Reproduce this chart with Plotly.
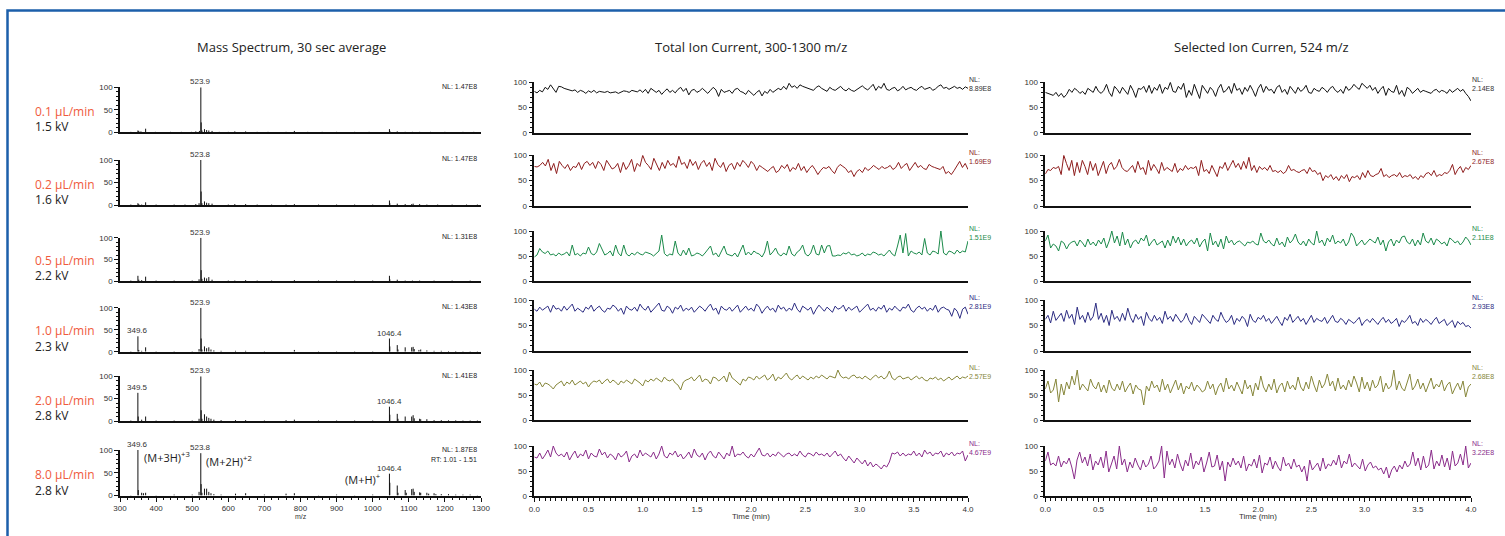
import numpy as np
import plotly.graph_objects as go

# ---------------- data ----------------
flow_labels = ["0.1 µL/min", "0.2 µL/min", "0.5 µL/min", "1.0 µL/min", "2.0 µL/min", "8.0 µL/min"]
kv_labels = ["1.5 kV", "1.6 kV", "2.2 kV", "2.3 kV", "2.8 kV", "2.8 kV"]
row_colors = ["#111111", "#8e1d1d", "#1b8a4a", "#2c2c82", "#86863a", "#8a2c8a"]
ms_nl = ["1.47E8", "1.47E8", "1.31E8", "1.43E8", "1.41E8", "1.87E8"]
tic_nl = ["8.89E8", "1.69E9", "1.51E9", "2.81E9", "2.57E9", "4.67E9"]
sic_nl = ["2.14E8", "2.67E8", "2.11E8", "2.93E8", "2.68E8", "3.22E8"]
col_titles = ["Mass Spectrum, 30 sec average", "Total Ion Current, 300-1300 m/z", "Selected Ion Curren, 524 m/z"]

# mass spectra: peak m/z and relative intensity per row
ms_mz_r1 = [330, 349.6, 352, 358, 371, 398, 440, 470, 498, 510, 520, 523.9, 524.9, 527, 534, 540, 546, 555, 575, 600, 618, 648, 680, 710, 760, 783, 820, 860, 900, 950, 990, 1046.4, 1047.4, 1068, 1090, 1110, 1130, 1160, 1200, 1250, 1280]
ms_int_r1 = [1, 4, 3, 2, 8, 1, 1, 1, 1, 2, 3, 100, 22, 4, 7, 5, 4, 3, 1, 1, 2, 2, 1, 1, 1, 3, 1, 1, 1, 1, 1, 7, 3, 2, 1, 1, 1, 1, 1, 1, 1]
ms_mz_r2 = [330, 349.6, 352, 360, 371, 400, 450, 480, 510, 519, 523.8, 524.8, 527, 534, 540, 546, 555, 600, 618, 648, 680, 720, 760, 783, 850, 900, 950, 1000, 1046.4, 1047.4, 1068, 1090, 1108, 1112, 1130, 1150, 1180, 1220, 1260, 1290]
ms_int_r2 = [1, 4, 2, 1, 6, 1, 1, 1, 2, 4, 100, 30, 4, 8, 5, 4, 3, 1, 2, 2, 1, 1, 1, 2, 1, 1, 1, 1, 10, 4, 3, 2, 2, 3, 2, 1, 1, 1, 1, 1]
ms_mz_r3 = [330, 349.6, 352, 360, 371, 400, 450, 500, 519, 523.9, 524.9, 527, 534, 540, 546, 555, 600, 618, 648, 680, 720, 783, 850, 900, 950, 1000, 1046.4, 1047.4, 1068, 1090, 1110, 1130, 1170, 1220, 1270]
ms_int_r3 = [1, 12, 3, 2, 10, 1, 1, 1, 4, 100, 25, 5, 8, 6, 9, 3, 1, 1, 2, 1, 1, 2, 1, 1, 1, 1, 12, 4, 3, 1, 1, 1, 1, 1, 1]
ms_mz_r4 = [330, 349.6, 352, 360, 371, 400, 450, 500, 519, 523.9, 524.9, 527, 534, 540, 546, 552, 560, 580, 620, 648, 700, 783, 850, 900, 950, 1000, 1046.4, 1047.4, 1068, 1070, 1090, 1108, 1112, 1115, 1128, 1133, 1150, 1170, 1190, 1210, 1230, 1250, 1270, 1290]
ms_int_r4 = [1, 35, 4, 2, 10, 1, 1, 1, 6, 100, 30, 5, 12, 8, 10, 5, 3, 2, 2, 2, 1, 4, 1, 1, 1, 1, 30, 12, 15, 5, 10, 10, 11, 6, 4, 5, 3, 2, 2, 1.5, 1.5, 1, 1, 1]
ms_mz_r5 = [330, 349.5, 350.5, 360, 371, 400, 450, 500, 519, 523.9, 524.9, 527, 534, 540, 546, 552, 560, 580, 620, 648, 700, 760, 783, 850, 900, 950, 1000, 1046.4, 1047.4, 1068, 1070, 1090, 1108, 1112, 1115, 1130, 1133, 1150, 1170, 1190, 1210, 1230, 1250, 1270, 1290]
ms_int_r5 = [1, 63, 10, 3, 10, 1, 1, 1, 5, 100, 24, 5, 15, 10, 7, 5, 3, 2, 2, 2, 1, 2, 3, 1, 1, 1, 1, 32, 14, 16, 5, 10, 10, 13, 6, 5, 4, 4, 2, 2, 1.5, 1.5, 1, 1, 1]
ms_mz_r6 = [330, 349.6, 350.6, 360, 365, 371, 400, 450, 500, 519, 523.8, 524.8, 527, 534, 540, 546, 552, 560, 580, 620, 648, 700, 760, 783, 850, 900, 950, 1000, 1046.4, 1047.4, 1068, 1070, 1090, 1093, 1108, 1112, 1115, 1130, 1133, 1150, 1155, 1170, 1175, 1190, 1210, 1230, 1250, 1270, 1290]
ms_int_r6 = [1, 100, 12, 6, 5, 6, 1, 2, 2, 8, 93, 25, 6, 15, 15, 8, 5, 3, 2, 4, 5, 2, 4, 5, 1, 2, 1, 2, 48, 28, 22, 6, 12, 6, 14, 15, 8, 7, 6, 6, 4, 5, 3, 3, 3, 2, 2, 2, 1]
ms_label_mz = [[523.9], [523.8], [523.9], [349.6, 523.9, 1046.4], [349.5, 523.9, 1046.4], [349.6, 523.8, 1046.4]]

# total ion current traces (relative abundance), 0-4 min
tic_r1 = [82,79,84,81,90,86,95,88,80,92,91,88,86,84,83,85,80,84,82,78,83,80,84,79,82,81,80,82,79,80,81,78,80,83,82,80,84,82,81,85,80,86,78,88,83,80,84,76,82,87,80,84,79,86,90,82,88,75,84,86,80,83,88,82,78,84,90,85,72,86,80,82,84,78,86,88,82,80,76,84,79,74,80,84,73,82,78,86,80,84,88,85,92,86,98,90,93,88,95,92,90,88,86,84,90,93,88,85,82,90,86,84,88,92,86,83,88,84,82,86,90,93,88,85,90,96,84,92,88,98,86,84,88,90,83,86,92,85,88,90,86,84,89,92,86,88,90,84,87,92,95,88,90,86,89,92,88,90,86,91,88]
tic_r2 = [78,77,80,86,79,92,70,84,64,88,80,74,82,70,78,76,86,72,84,88,80,86,74,88,82,70,90,80,73,76,84,66,86,72,80,92,68,84,78,100,86,80,72,94,82,70,86,74,90,80,84,76,98,82,86,74,92,80,88,72,84,90,78,86,70,94,82,76,86,68,80,84,72,86,78,90,84,76,88,82,70,80,76,72,68,74,78,66,70,80,74,82,68,76,72,84,70,78,66,74,80,72,62,70,76,74,78,70,64,76,82,78,74,66,70,58,68,72,66,76,70,74,80,76,72,78,74,76,80,72,76,86,74,80,84,70,78,86,76,80,74,72,82,78,76,74,72,78,64,68,62,70,80,88,76,84,72]
tic_r3 = [48,52,65,58,55,60,52,54,50,56, 52,54,58,50,72,52,55,50,56,54, 68,55,52,58,75,62,52,55,60,50,
          72,56,50,72,54,50,56,52,58,54, 52,58,56,54,50,55,60,92,55,50, 54,52,80,56,50,62,52,66,50,52,
          56,54,50,56,62,70,52,56,48,58, 70,54,52,50,56,48,60,72,52,58, 52,60,56,54,48,58,80,52,58,66,
          54,50,56,52,70,54,50,58,62,72, 54,50,56,72,54,52,72,56,70,71, 50,50,52,51,56,54,58,52,54,50,
          52,56,50,54,52,58,56,52,54,50, 56,62,54,50,70,92,56,95,50,60, 56,54,58,52,85,56,52,60,58,54,
          100,56,52,60,58,54,62,56,60,58,80]
tic_r4 = [82,78,86,80,84,88,76,90,82,84,78,88,80,86,92,78,84,80,76,86,82,90,78,84,88,80,76,84,82,90,86,78,84,72,88,82,80,86,78,92,84,80,88,76,82,86,94,80,78,88,84,74,86,82,90,78,84,80,86,76,82,88,84,78,86,92,80,84,72,88,82,80,86,78,84,90,76,82,88,80,84,78,92,86,74,82,88,80,84,76,90,82,86,78,84,80,94,82,76,88,84,80,86,72,82,90,84,78,86,80,76,88,82,84,90,78,86,80,84,88,76,82,86,92,80,84,78,86,82,90,76,84,80,88,82,78,86,84,92,80,76,84,88,82,86,78,84,80,90,76,84,86,82,80,68,84,78,64,82,86,72]
tic_r5 = [72,70,76,66,74,72,68,62,70,74,78,68,76,72,80,70,74,78,72,76,66,74,78,76,80,72,78,82,74,80,76,70,78,74,80,76,72,82,78,74,68,80,76,82,78,84,80,76,86,80,78,82,74,70,60,76,80,82,86,78,84,90,76,82,80,72,86,84,78,82,88,76,96,84,80,74,70,82,78,86,84,80,88,82,86,90,80,84,92,78,86,82,88,94,84,80,86,90,82,88,84,80,86,82,88,84,90,86,82,88,86,84,100,88,84,86,82,88,90,84,86,82,88,84,80,86,90,84,88,82,86,98,84,80,86,88,82,84,86,80,84,88,82,86,80,78,84,82,86,80,84,78,82,86,80,84,88,82,86,84,88]
tic_r6 = [78,76,86,74,82,92,78,100,86,80,84,78,88,72,82,90,76,84,80,92,74,86,80,78,94,82,88,76,84,80,72,86,78,82,90,68,80,84,76,92,80,86,82,78,88,74,84,100,80,76,86,82,90,78,84,74,80,88,76,94,82,78,86,72,84,90,80,76,88,82,74,86,80,100,78,84,82,88,80,76,84,78,86,96,82,80,86,78,84,80,88,82,78,84,86,80,84,80,90,82,78,86,84,80,88,82,84,80,86,78,84,90,80,84,76,70,80,74,66,76,70,64,72,60,68,58,64,60,54,62,58,68,86,84,88,80,86,80,84,82,90,80,86,78,92,84,88,80,86,84,90,78,86,82,88,80,86,84,90,70,82]

# selected ion current traces (m/z 524)
sic_r1 = [80,78,75,74,80,72,78,70,76,86,80,88,84,78,82,76,88,84,80,92,82,78,84,96,80,72,92,86,78,90,82,76,94,84,70,88,86,92,80,94,78,90,84,96,78,90,86,100,82,80,92,86,98,70,84,74,96,82,68,94,86,78,90,84,72,88,96,80,84,92,78,98,84,88,76,90,82,94,84,72,88,96,80,92,84,86,78,90,94,80,86,76,92,84,78,90,82,86,94,80,78,88,84,82,90,86,80,88,92,84,80,86,78,92,84,88,96,90,86,98,92,88,94,84,90,78,86,92,74,88,82,80,94,76,84,72,90,86,78,84,88,80,84,82,80,78,84,86,80,84,82,78,86,80,84,88,82,86,78,72,63]
sic_r2 = [63,72,70,76,74,78,62,100,84,70,90,60,86,66,90,78,62,88,70,84,60,76,88,64,80,86,72,78,92,76,70,68,74,80,66,88,72,76,62,90,70,82,74,64,86,70,76,72,68,84,66,74,70,80,72,76,74,78,60,90,68,72,64,80,70,58,78,74,86,70,80,90,76,84,72,88,74,96,70,80,66,78,72,76,70,80,68,70,66,70,64,68,80,70,72,68,66,70,72,64,76,68,70,62,66,50,60,56,62,52,58,50,60,54,62,48,58,56,60,52,66,56,70,60,58,62,64,74,58,62,56,60,62,58,66,56,60,58,62,54,58,52,60,56,64,66,60,70,58,62,60,66,64,70,82,62,72,78,66,76,72,80]
sic_r3 = [80,92,66,74,70,60,80,76,64,74,78,80,70,82,76,68,84,72,78,70,82,74,86,66,80,100,76,90,70,98,72,84,66,78,82,74,86,80,92,70,78,84,72,76,80,66,82,70,90,76,88,72,84,70,78,82,74,86,68,78,84,60,96,72,80,68,84,64,90,76,82,72,78,80,74,70,78,76,80,74,72,96,80,76,82,74,70,86,72,78,68,88,76,82,94,78,72,80,70,84,76,72,100,76,82,70,86,78,92,74,80,76,84,70,78,96,88,70,76,82,72,78,84,80,76,88,72,82,60,78,84,70,82,76,88,90,78,74,84,70,82,72,96,80,76,86,72,84,80,74,78,70,86,82,76,80,72,78,88,82,72]
sic_r4 = [62,70,55,78,60,66,74,58,80,64,72,52,86,62,70,56,76,60,68,94,62,74,56,70,50,80,62,68,58,74,60,84,66,56,72,62,68,50,76,64,58,70,60,66,54,78,62,68,58,72,64,56,62,74,60,52,68,62,56,72,66,60,54,70,62,58,76,64,56,60,70,52,64,58,68,62,48,72,60,56,66,62,70,58,64,54,62,68,58,50,66,60,72,56,62,68,58,64,52,60,70,56,64,60,58,66,54,62,70,58,56,64,60,52,62,58,54,60,66,50,58,62,56,64,58,52,60,66,56,62,54,58,64,48,60,56,62,70,54,58,50,64,56,62,58,52,60,66,54,58,62,50,56,60,46,58,52,56,48,50,45]
sic_r5 = [62,78,54,60,82,36,72,50,76,62,88,70,100,60,72,64,58,82,68,62,76,56,70,54,80,64,58,72,60,78,56,66,74,52,70,62,60,30,68,58,78,64,70,56,82,60,72,54,66,80,60,74,52,68,62,76,58,70,64,56,60,78,62,72,50,66,74,56,84,62,70,58,76,64,52,80,62,70,48,74,60,88,66,56,72,60,82,54,68,74,56,78,62,70,60,86,66,58,76,62,88,70,56,80,64,72,92,68,78,58,84,62,70,60,80,66,88,74,56,86,62,76,58,80,64,70,88,56,74,62,68,100,60,78,64,58,76,92,60,68,82,62,74,56,70,84,62,72,66,80,58,70,76,52,64,74,60,78,46,66,72]
sic_r6 = [70,88,62,66,60,80,58,70,64,76,58,34,72,88,66,78,60,84,52,70,62,78,56,90,48,62,80,54,100,62,74,48,68,56,76,62,52,72,58,64,80,54,60,70,100,36,90,62,74,56,84,64,50,72,60,86,54,70,62,78,48,66,88,58,60,82,52,70,30,68,58,76,62,70,56,80,50,64,60,74,56,82,46,66,62,78,54,70,58,50,78,60,66,54,74,58,62,48,60,30,72,52,58,66,50,76,54,64,60,72,62,82,56,70,64,84,58,66,60,54,74,50,62,68,56,60,52,56,44,58,36,52,60,48,62,54,70,58,64,88,60,76,52,80,56,62,92,54,70,60,82,58,76,52,90,60,66,84,62,100,56,66]

ms_mz = [ms_mz_r1, ms_mz_r2, ms_mz_r3, ms_mz_r4, ms_mz_r5, ms_mz_r6]
ms_int = [ms_int_r1, ms_int_r2, ms_int_r3, ms_int_r4, ms_int_r5, ms_int_r6]
tic = [tic_r1, tic_r2, tic_r3, tic_r4, tic_r5, tic_r6]
sic = [sic_r1, sic_r2, sic_r3, sic_r4, sic_r5, sic_r6]

# ---------------- layout geometry (pixels) ----------------
W, H = 1505, 536
col_px = [(120, 481), (534.3, 968), (1045.3, 1471)]
rows_px_ms = [(87.3, 132.3), (160, 205), (237.7, 281), (307.7, 351.7), (376.3, 421), (450, 495.5)]
rows_px_tc = [(82.3, 132.7), (155.3, 206), (231, 281), (300, 351), (370, 420), (446, 496)]

def px(x):
    return x / W

def py(y):
    return 1 - y / H

TICKFONT = dict(family="Liberation Sans, Arial", size=8, color="#333333")
LBLFONT = dict(family="Open Sans", size=13, color="#222222")
ROWFONT = dict(family="Open Sans", size=12, color="#222222")

fig = go.Figure()
layout = dict(width=W, height=H, margin=dict(l=0, r=0, t=0, b=0, autoexpand=False),
              plot_bgcolor="white", paper_bgcolor="white", showlegend=False)
annotations = []

for r in range(6):
    for c in range(3):
        idx = r * 3 + c + 1
        xname = "xaxis" if idx == 1 else f"xaxis{idx}"
        yname = "yaxis" if idx == 1 else f"yaxis{idx}"
        xref = "x" if idx == 1 else f"x{idx}"
        yref = "y" if idx == 1 else f"y{idx}"
        rows_px = rows_px_ms if c == 0 else rows_px_tc
        top, bot = rows_px[r]
        x0, x1 = col_px[c]
        bottom = (r == 5)

        xa = dict(domain=[px(x0), px(x1)], anchor=yref, showgrid=False, zeroline=False,
                  automargin=False, showline=True, linecolor="#111111", linewidth=2,
                  tickfont=TICKFONT)
        if c == 0:
            xa["range"] = [300, 1300]
            if bottom:
                xa.update(ticks="outside", ticklen=4, tickwidth=1, tickcolor="#111111",
                          tickvals=list(range(300, 1301, 100)), showticklabels=True,
                          minor=dict(dtick=20, tick0=300, ticks="outside", ticklen=2.5,
                                     tickwidth=1, tickcolor="#111111"))
            else:
                xa.update(showticklabels=False, ticks="")
        else:
            xa["range"] = [0, 4]
            if bottom:
                xa.update(ticks="outside", ticklen=4, tickwidth=1, tickcolor="#111111",
                          dtick=0.5, tick0=0, tickformat=".1f", showticklabels=True,
                          minor=dict(dtick=0.05, tick0=0, ticks="outside", ticklen=2.5,
                                     tickwidth=1, tickcolor="#111111"))
            else:
                xa.update(showticklabels=False, ticks="")
        ya = dict(domain=[py(bot), py(top)], anchor=xref, range=[0, 100], showgrid=False,
                  zeroline=False, automargin=False, showline=True, linecolor="#111111",
                  linewidth=1.5, ticks="outside", ticklen=4, tickwidth=1, tickcolor="#111111",
                  tickvals=[0, 50, 100], tickfont=TICKFONT, ticklabelstandoff=0,
                  minor=dict(dtick=10, tick0=0, ticks="outside", ticklen=2.5,
                             tickwidth=1, tickcolor="#111111"))
        layout[xname] = xa
        layout[yname] = ya

        if c == 0:
            xs, ys = [], []
            for m, h in zip(ms_mz[r], ms_int[r]):
                xs += [m, m, None]
                ys += [0, h, None]
            fig.add_trace(go.Scatter(x=xs, y=ys, mode="lines", xaxis=xref, yaxis=yref,
                                     line=dict(color="#111111", width=1), hoverinfo="skip"))
            for m in ms_label_mz[r]:
                h = ms_int[r][ms_mz[r].index(m)]
                annotations.append(dict(x=m, y=h, xref=xref, yref=yref, text=f"{m:.1f}",
                                        showarrow=False, xanchor="center", yanchor="bottom",
                                        yshift=-1, font=TICKFONT))
            annotations.append(dict(x=px(479), y=py(top - 1), xref="paper", yref="paper",
                                    text=f"NL: {ms_nl[r]}", showarrow=False, xanchor="right",
                                    yanchor="middle",
                                    font=dict(family="Liberation Sans, Arial", size=7, color="#222")))
        else:
            vals = tic[r] if c == 1 else sic[r]
            nl = tic_nl[r] if c == 1 else sic_nl[r]
            t = np.linspace(0, 4, len(vals))
            fig.add_trace(go.Scatter(x=t, y=vals, mode="lines", xaxis=xref, yaxis=yref,
                                     line=dict(color=row_colors[r], width=1), hoverinfo="skip"))
            annotations.append(dict(x=px(x1 - 1), y=py(top + 2), xref="paper", yref="paper",
                                    text=f"NL:<br>{nl}", showarrow=False, xanchor="left",
                                    yanchor="middle", align="left",
                                    font=dict(family="Liberation Sans, Arial", size=7,
                                              color=row_colors[r] if r else "#333")))

    # row labels
    _, bot0 = rows_px_ms[r]
    annotations.append(dict(x=px(33), y=py(bot0 - 21), xref="paper", yref="paper",
                            text=flow_labels[r], showarrow=False, xanchor="left", yanchor="middle",
                            font=dict(family="Open Sans", size=12, color="#f05a3c")))
    annotations.append(dict(x=px(33), y=py(bot0 - 5.5), xref="paper", yref="paper",
                            text=kv_labels[r], showarrow=False, xanchor="left", yanchor="middle",
                            font=ROWFONT))

# extra texts on bottom mass spectrum
annotations.append(dict(x=px(479), y=py(459.5), xref="paper", yref="paper", text="RT: 1.01 - 1.51",
                        showarrow=False, xanchor="right", yanchor="middle",
                        font=dict(family="Liberation Sans, Arial", size=7, color="#222")))
ion_font = dict(family="Open Sans", size=11, color="#222222")
annotations.append(dict(x=361, y=85, xref="x16", yref="y16", text="(M+3H)<sup>+3</sup>",
                        showarrow=False, xanchor="left", yanchor="middle", font=ion_font))
annotations.append(dict(x=533, y=76, xref="x16", yref="y16", text="(M+2H)<sup>+2</sup>",
                        showarrow=False, xanchor="left", yanchor="middle", font=ion_font))
annotations.append(dict(x=1027, y=36, xref="x16", yref="y16", text="(M+H)<sup>+</sup>",
                        showarrow=False, xanchor="right", yanchor="middle", font=ion_font))

# column titles and axis titles
title_x = [291.5, 751, 1261]
for c in range(3):
    annotations.append(dict(x=px(title_x[c]), y=py(47), xref="paper", yref="paper",
                            text=col_titles[c], showarrow=False, xanchor="center", yanchor="middle",
                            font=LBLFONT))
axis_font = dict(family="Liberation Sans, Arial", size=8, color="#333")
annotations.append(dict(x=px(300.5), y=py(516.5), xref="paper", yref="paper", text="m/z",
                        showarrow=False, xanchor="center", yanchor="middle",
                        font=dict(family="Liberation Sans, Arial", size=7, color="#333")))
annotations.append(dict(x=px(751), y=py(516.5), xref="paper", yref="paper", text="Time (min)",
                        showarrow=False, xanchor="center", yanchor="middle", font=axis_font))
annotations.append(dict(x=px(1258), y=py(516.5), xref="paper", yref="paper", text="Time (min)",
                        showarrow=False, xanchor="center", yanchor="middle", font=axis_font))

layout["annotations"] = annotations
layout["shapes"] = [dict(type="rect", xref="paper", yref="paper", x0=px(7.5), x1=1.02,
                         y0=-0.05, y1=py(10.5), line=dict(color="#1c5faa", width=2.5),
                         fillcolor="rgba(0,0,0,0)", layer="above")]
fig.update_layout(**layout)

fix_page = ("document.documentElement.style.margin='0';document.body.style.margin='0';"
            "document.body.style.padding='0';document.documentElement.style.overflow='hidden';"
            "document.body.style.overflow='hidden';")
fig.write_html("out.html", post_script=fix_page, config={"displayModeBar": False})
